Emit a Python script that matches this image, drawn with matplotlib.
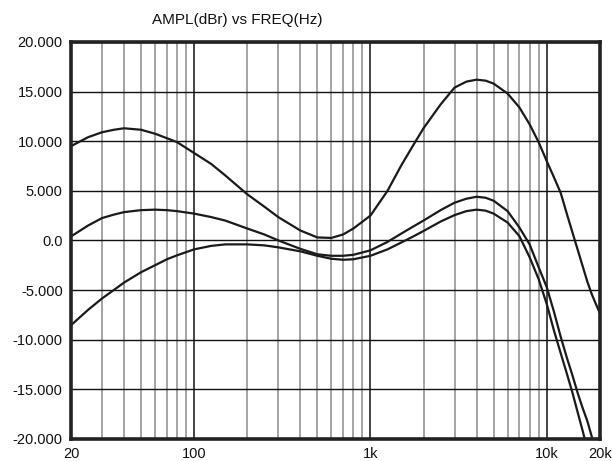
import numpy as np
import matplotlib
matplotlib.use("Agg")
import matplotlib.pyplot as plt

plt.rcParams['font.family'] = ['Liberation Sans', 'DejaVu Sans']

# frequencies (Hz)
freq = [20, 25, 30, 35, 40, 50, 60, 70, 80, 100, 125, 150, 200, 250, 300, 400,
        500, 600, 700, 800, 1000, 1250, 1500, 1750, 2000, 2500, 3000, 3500,
        4000, 4500, 5000, 6000, 7000, 8000, 9000, 10000, 11000, 12000, 13000,
        14000, 15000, 16000, 17000, 18000, 19000, 20000]

# upper curve (dBr)
amp_a = [9.5, 10.4, 10.9, 11.15, 11.3, 11.15, 10.75, 10.3, 9.9, 8.8, 7.7, 6.55,
         4.65, 3.4, 2.35, 1.0, 0.3, 0.25, 0.6, 1.2, 2.5, 5.0, 7.6, 9.6, 11.3,
         13.7, 15.4, 16.0, 16.2, 16.1, 15.8, 14.8, 13.4, 11.7, 9.9, 8.0, 6.35,
         4.8, 2.7, 0.8, -0.95, -2.6, -4.15, -5.4, -6.4, -7.3]

# middle curve (dBr)
amp_b = [0.4, 1.5, 2.25, 2.6, 2.85, 3.05, 3.1, 3.05, 2.95, 2.7, 2.35, 2.0, 1.2,
         0.6, 0.0, -0.85, -1.4, -1.55, -1.55, -1.45, -1.0, -0.15, 0.7, 1.4, 2.0,
         3.05, 3.8, 4.2, 4.4, 4.3, 4.0, 2.95, 1.3, -0.4, -2.7, -4.7, -7.2, -9.7,
         -11.8, -13.6, -15.4, -16.9, -18.2, -19.75, -21.0, -22.3]

# lower curve (dBr)
amp_c = [-8.55, -7.0, -5.85, -5.0, -4.25, -3.2, -2.5, -1.9, -1.5, -0.9, -0.55,
         -0.4, -0.4, -0.5, -0.7, -1.1, -1.55, -1.85, -1.95, -1.9, -1.55, -0.9,
         -0.2, 0.4, 0.95, 1.9, 2.55, 2.95, 3.1, 3.0, 2.7, 1.8, 0.43, -1.7,
         -3.9, -6.4, -9.1, -11.35, -13.4, -15.35, -17.35, -19.2, -21.0, -22.8,
         -24.5, -26.0]

y_ticks = [20, 15, 10, 5, 0, -5, -10, -15, -20]
y_labels = ['20.000', '15.000', '10.000', '5.000', '0.0', '-5.000', '-10.000',
            '-15.000', '-20.000']
x_ticks = [20, 100, 1000, 10000, 20000]
x_labels = ['20', '100', '1k', '10k', '20k']

fig = plt.figure(figsize=(6.12, 4.61), dpi=100)
ax = fig.add_axes([0.116, 0.048, 0.864, 0.861])
ax.set_xscale('log')
ax.set_xlim(20, 20000)
ax.set_ylim(-20, 20)

# grid: gray minors, black decades and dB lines
minors = [m * d for d in (10, 100, 1000) for m in range(2, 10) if 20 < m * d < 20000]
for f in minors:
    ax.axvline(f, color='#8a8a8a', lw=1.1, zorder=1)
for f in (100, 1000, 10000):
    ax.axvline(f, color='#111111', lw=1.1, zorder=1)
for y in y_ticks:
    ax.axhline(y, color='#111111', lw=1.0, zorder=1)

for amp in (amp_a, amp_b, amp_c):
    ax.plot(freq, amp, color='#1a1a1a', lw=1.6, zorder=3)

ax.set_yticks(y_ticks)
ax.set_yticklabels(y_labels)
ax.set_xticks(x_ticks)
ax.set_xticklabels(x_labels)
ax.minorticks_off()
ax.tick_params(length=0, labelsize=10.5, colors='#111111')
ax.tick_params(axis='x', pad=6)
ax.tick_params(axis='y', pad=6)
for s in ax.spines.values():
    s.set_linewidth(2.6)
    s.set_color('#222222')
    s.set_zorder(4)

fig.text(0.387, 0.957, 'AMPL(dBr) vs FREQ(Hz)', ha='center', va='center',
         fontsize=11, color='#111111')

fig.savefig('out.png', dpi=100)
